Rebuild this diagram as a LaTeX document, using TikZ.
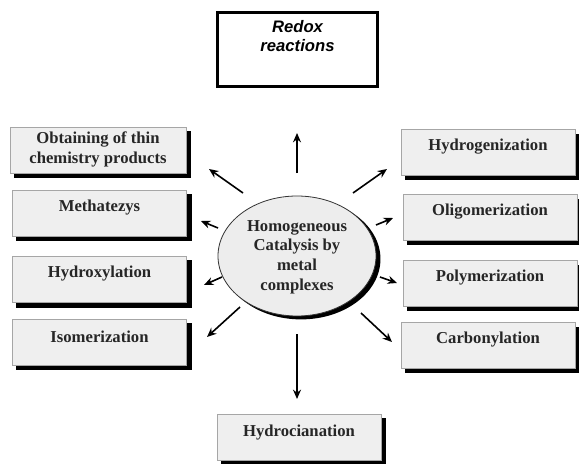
\documentclass[tikz,border=0pt]{standalone}
\usepackage{fontspec}
\setmainfont{Liberation Serif}
\newfontfamily\redoxfont{Liberation Sans}
\usetikzlibrary{arrows.meta,shapes.geometric,backgrounds}
\definecolor{boxgray}{HTML}{EFEFEF}
\definecolor{ellgray}{HTML}{EDEDED}
\newcommand\boxshadow[1]{\fill[black] ([shift={(4.5,4.5)}]#1.south west) rectangle ([shift={(4.5,4.5)}]#1.north east);}
\begin{document}
\begin{tikzpicture}[x=0.75pt,y=-0.75pt,
  box/.style={draw=gray!70, line width=0.6pt, fill=boxgray, minimum width=130.5pt, minimum height=34.5pt, inner sep=0},
  btext/.style={font=\bfseries\fontsize{12.5}{15}\selectfont, align=center, inner sep=0, text=black!85},
  conn/.style={line width=1.2pt, -{Stealth[length=7pt,width=6pt]}}
]
\useasboundingbox (0,0) rectangle (579,464);

% top box
\node[draw=black, line width=2.2pt, fill=white, minimum width=120pt, minimum height=56pt, inner sep=0] (redox) at (297.5,49.5) {};
\node[font=\redoxfont\bfseries\itshape\fontsize{12.5}{14.5}\selectfont, align=center, inner sep=0, anchor=north] (redoxt) at (297.5,20) {Redox\\reactions};

% centre ellipse
\node[ellipse, draw=black!80, line width=0.6pt, fill=ellgray, minimum width=118.5pt, minimum height=90pt, inner sep=0] (cat) at (297,256) {};
\node[btext, font=\bfseries\fontsize{12.5}{14.8}\selectfont] (catt) at (297,257) {Homogeneous\\Catalysis by\\metal\\complexes};

% left boxes
\node[box, minimum width=132pt] (obt) at (98,150) {};
\node[btext] (obtt) at (98,149) {Obtaining of thin\\chemistry products};
\node[box, minimum width=131pt] (met) at (99.5,213) {};
\node[btext] (mett) at (99.5,208) {Methatezys};
\node[box, minimum width=131pt, minimum height=35pt] (hydx) at (99.5,279.5) {};
\node[btext] (hydxt) at (99.5,274) {Hydroxylation};
\node[box, minimum width=131pt] (iso) at (99.5,342) {};
\node[btext] (isot) at (99.5,337) {Isomerization};

% right boxes
\node[box] (hydg) at (488,152.5) {};
\node[btext] (hydgt) at (488,147) {Hydrogenization};
\node[box, minimum height=34pt] (oli) at (490,217.5) {};
\node[btext] (olit) at (490,212) {Oligomerization};
\node[box, minimum height=34pt] (poly) at (490,283.5) {};
\node[btext] (polyt) at (490,278) {Polymerization};
\node[box, minimum height=34pt] (carb) at (488,345.5) {};
\node[btext] (carbt) at (488,340) {Carbonylation};

% bottom box
\node[box, minimum width=123pt] (hcn) at (299,437) {};
\node[btext] (hcnt) at (299,433) {Hydrocianation};

% shadows
\begin{scope}[on background layer]
  \foreach \n in {obt,met,hydx,iso,hydg,oli,poly,carb,hcn} {\boxshadow{\n}}
  \fill[black] ([shift={(4,3)}]cat.center) ellipse [x radius=59.6pt, y radius=45.3pt];
\end{scope}

% arrow end points
\coordinate (s1) at (297,173); \coordinate (e1) at (297,133);
\coordinate (s2) at (243,193); \coordinate (e2) at (209,169);
\coordinate (s3) at (353,193); \coordinate (e3) at (387,169);
\coordinate (s4) at (218,228); \coordinate (e4) at (201,221);
\coordinate (s5) at (376,225); \coordinate (e5) at (393,218);
\coordinate (s6) at (222,277); \coordinate (e6) at (204,285);
\coordinate (s7) at (380,277); \coordinate (e7) at (397,283);
\coordinate (s8) at (240,307); \coordinate (e8) at (207,337);
\coordinate (s9) at (361,313); \coordinate (e9) at (392,342);
\coordinate (s10) at (297,334); \coordinate (e10) at (297,399);

\foreach \i in {1,...,10} {\draw[conn] (s\i) -- (e\i);}
\end{tikzpicture}
\end{document}
